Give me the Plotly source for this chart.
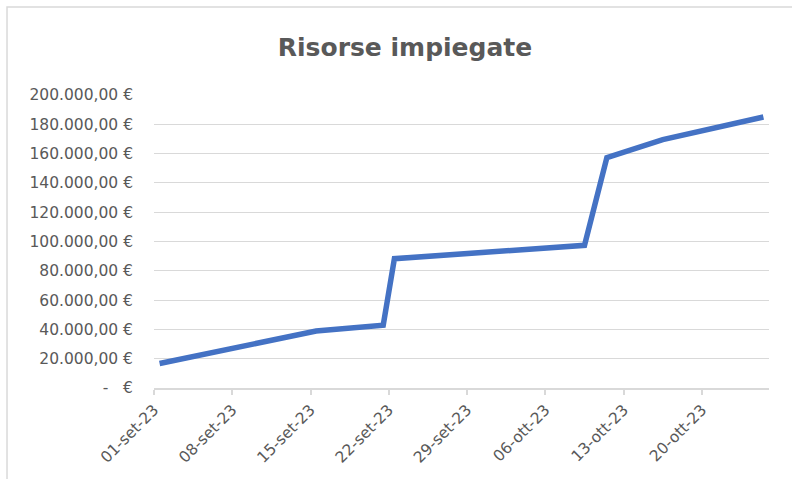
import plotly.graph_objects as go

# ---- data ----
dates = ["2023-09-01", "2023-09-15", "2023-09-21", "2023-09-22",
         "2023-10-09", "2023-10-11", "2023-10-16", "2023-10-25"]
values = [16700, 38900, 42800, 88300, 97400, 157300, 169600, 185000]

x_tick_vals = ["2023-09-01", "2023-09-08", "2023-09-15", "2023-09-22",
               "2023-09-29", "2023-10-06", "2023-10-13", "2023-10-20"]
x_tick_text = ["01-set-23", "08-set-23", "15-set-23", "22-set-23",
               "29-set-23", "06-ott-23", "13-ott-23", "20-ott-23"]

y_tick_vals = [0, 20000, 40000, 60000, 80000, 100000,
               120000, 140000, 160000, 180000, 200000]
y_tick_text = ["-\u00a0\u00a0\u00a0€", "20.000,00 €", "40.000,00 €", "60.000,00 €",
               "80.000,00 €", "100.000,00 €", "120.000,00 €", "140.000,00 €",
               "160.000,00 €", "180.000,00 €", "200.000,00 €"]

title_text = "Risorse impiegate"

# ---- figure ----
GREY = "#595959"
GRID = "#d9d9d9"
FONT = "DejaVu Sans"

fig = go.Figure()
fig.add_trace(go.Scatter(
    x=dates, y=values, mode="lines",
    xperiod=86400000, xperiodalignment="middle",
    line=dict(color="#4472C4", width=5.5),
    hoverinfo="skip",
))

fig.update_layout(
    width=792, height=479,
    paper_bgcolor="white", plot_bgcolor="white",
    margin=dict(l=154, r=23, t=95, b=91),
    showlegend=False,
    title=dict(text=title_text, x=405 / 792, xref="container", xanchor="center",
               y=1 - 47 / 479, yref="container", yanchor="middle",
               font=dict(family=FONT, size=25, color=GREY, weight="bold")),
    shapes=[dict(type="rect", xref="paper", yref="paper",
                 x0=-0.239, x1=1.2, y0=-0.6, y1=1.3003,
                 line=dict(color=GRID, width=1.5), fillcolor="rgba(0,0,0,0)",
                 layer="below")],
)

fig.update_xaxes(
    type="date", range=["2023-09-01", "2023-10-26"],
    tickvals=x_tick_vals, ticktext=x_tick_text, tickangle=-45,
    ticks="outside", ticklen=5, tickcolor=GRID, tickwidth=1.5,
    showline=True, linecolor=GRID, linewidth=1.5,
    showgrid=False, zeroline=False,
    tickfont=dict(family=FONT, size=15.5, color=GREY),
)
fig.update_yaxes(
    range=[0, 200000], tickvals=y_tick_vals, ticktext=y_tick_text,
    showgrid=True, gridcolor=GRID, gridwidth=1.2,
    zeroline=False, showline=False, ticks="",
    ticklabelstandoff=20,
    tickfont=dict(family=FONT, size=15.5, color=GREY),
)

fig.write_html("out.html", config={"displayModeBar": False},
               post_script="document.body.style.margin='0';")
